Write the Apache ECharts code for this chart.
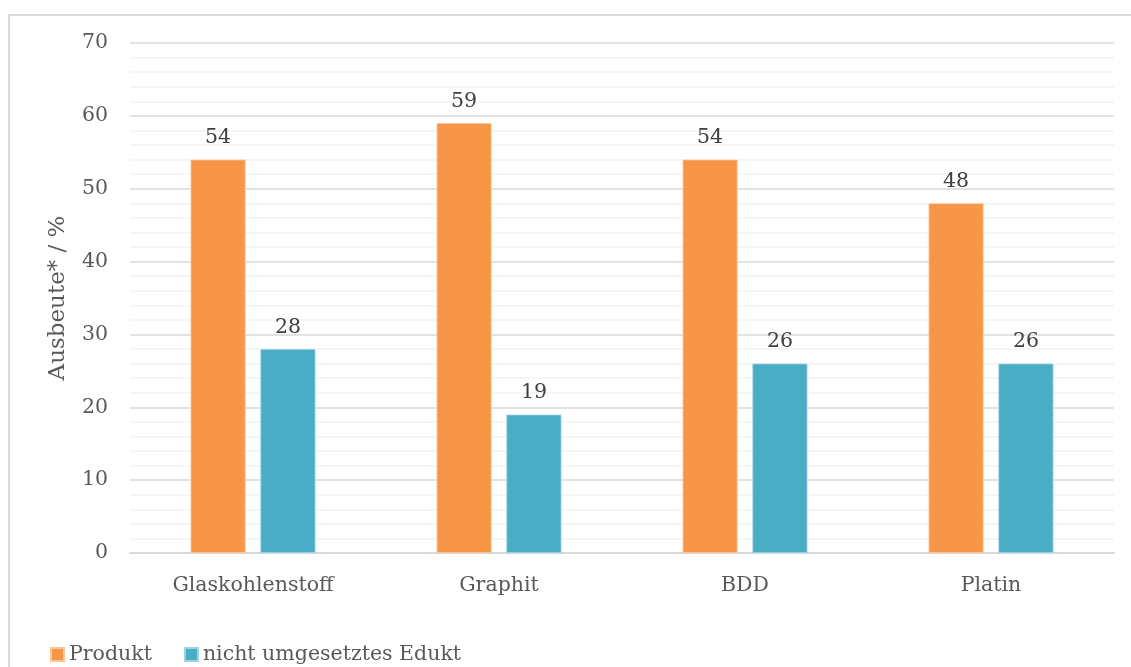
<!DOCTYPE html>
<html>
<head>
<meta charset="utf-8">
<script src="https://cdn.jsdelivr.net/npm/echarts@6/dist/echarts.min.js"></script>
<style>
  html, body { margin: 0; padding: 0; background: #fff; overflow: hidden; }
  #frame { position: absolute; left: 8px; top: 14px; width: 1130px; height: 700px;
           border: 2px solid #d9d9d9; box-sizing: border-box; }
  #chart { position: absolute; left: 0; top: 0; width: 1131px; height: 667px; }
</style>
</head>
<body>
<div id="frame"></div>
<div id="chart"></div>
<script>
const categories = ['Glaskohlenstoff', 'Graphit', 'BDD', 'Platin'];
const produkt = [54, 59, 54, 48];
const edukt = [28, 19, 26, 26];
const seriesNames = ['Produkt', 'nicht umgesetztes Edukt'];

const FONT = 'DejaVu Serif';
const SIZE = 20.5;
const chart = echarts.init(document.getElementById('chart'));

const labelStyle = {
  show: true, position: 'top', distance: 11,
  color: '#404040', fontFamily: FONT, fontSize: SIZE
};

chart.setOption({
  animation: false,
  textStyle: { fontFamily: FONT },
  grid: { left: 130, right: 17, top: 43, bottom: 114 },
  legend: {
    left: 45, top: 639,
    itemWidth: 13, itemHeight: 13, itemGap: 32,
    icon: 'rect',
    textStyle: { color: '#595959', fontFamily: FONT, fontSize: SIZE },
    data: seriesNames
  },
  xAxis: {
    type: 'category',
    data: categories,
    axisLine: { show: true, lineStyle: { color: '#d9d9d9', width: 2 } },
    axisTick: { show: false },
    axisLabel: { color: '#595959', fontFamily: FONT, fontSize: SIZE, margin: 22 }
  },
  yAxis: {
    type: 'value',
    min: 0, max: 70, interval: 10,
    name: 'Ausbeute* / %',
    nameLocation: 'middle',
    nameGap: 60,
    nameTextStyle: { color: '#595959', fontFamily: FONT, fontSize: 23 },
    axisLine: { show: false },
    axisTick: { show: false },
    axisLabel: { color: '#595959', fontFamily: FONT, fontSize: SIZE, margin: 22 },
    splitLine: { show: true, lineStyle: { color: '#d9d9d9', width: 1.5 } },
    minorTick: { show: false, splitNumber: 5 },
    minorSplitLine: { show: true, lineStyle: { color: '#f2f2f2', width: 1.5 } }
  },
  series: [
    {
      name: seriesNames[0], type: 'bar', data: produkt,
      barWidth: 55, barGap: '27%',
      itemStyle: { color: '#F79646', borderColor: '#fbc69c', borderWidth: 0.8 },
      label: labelStyle
    },
    {
      name: seriesNames[1], type: 'bar', data: edukt,
      barWidth: 55,
      itemStyle: { color: '#4BACC6', borderColor: '#9dd3e1', borderWidth: 0.8 },
      label: labelStyle
    }
  ]
});
</script>
</body>
</html>
